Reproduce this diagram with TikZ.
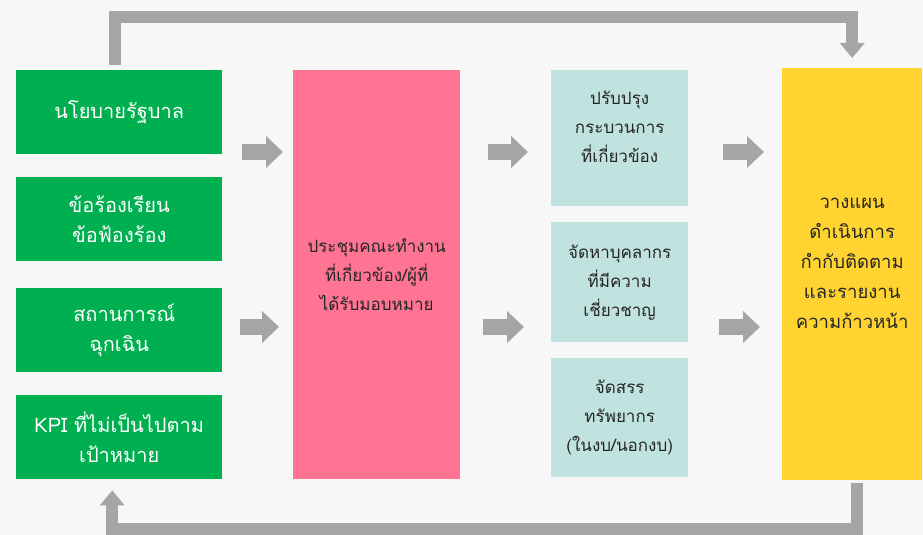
\documentclass[tikz,border=0pt]{standalone}
\usepackage{fontspec}
\newfontfamily\thaifont[Script=Thai]{Loma}
\usepackage{xcolor}
\definecolor{bggray}{HTML}{F7F7F7}
\definecolor{mygreen}{HTML}{00B050}
\definecolor{mypink}{HTML}{FF7393}
\definecolor{myteal}{HTML}{C0E3DF}
\definecolor{myyellow}{HTML}{FFD431}
\definecolor{arrowgray}{HTML}{A5A5A5}
\usetikzlibrary{arrows.meta}
\newcommand{\widthcause}{206pt}
\newcommand{\widthaction}{137pt}
\newcommand{\heightcause}{84pt}
\tikzset{
    common/.style={anchor=north west, rectangle, align=center, inner sep=0pt, text=black!85,
        font=\thaifont\fontsize{17}{29}\selectfont},
    cause/.style={common, fill=mygreen, text=white, minimum width=\widthcause, minimum height=\heightcause,
        font=\thaifont\fontsize{20}{30}\selectfont},
    meeting/.style={common, fill=mypink, minimum width=167pt, minimum height=409pt},
    action/.style={common, fill=myteal, minimum width=\widthaction},
    plan/.style={common, fill=myyellow, minimum width=140pt, minimum height=412pt,
        font=\thaifont\fontsize{18.5}{30}\selectfont},
    flow/.style={arrowgray, line width=16pt, -{Triangle[width=31pt, length=17pt]}},
    back/.style={arrowgray, line width=12pt, -{Triangle[width=24pt, length=15pt]}}
}

\begin{document}
\begin{tikzpicture}[x=1pt, y=-1pt]
    \fill[bggray] (0,0) rectangle (923,535);
    \useasboundingbox (0,0) rectangle (923,535);

    \node[cause] (policy) at (16,70) {นโยบายรัฐบาล};
    \node[cause] (complaint) at (16,177) {ข้อร้องเรียน\\ข้อฟ้องร้อง};
    \node[cause] (emergency) at (16,288) {\hspace{10pt}สถานการณ์\\ฉุกเฉิน};
    \node[cause] (kpi) at (16,395) {KPI ที่ไม่เป็นไปตาม\\เป้าหมาย};
    \node[meeting] (meeting) at (293,70) {ประชุมคณะทำงาน\\ที่เกี่ยวข้อง/ผู้ที่\\ได้รับมอบหมาย};
    \node[action, minimum height=136pt] (improve) at (551,70) {ปรับปรุง\\กระบวนการ\\ที่เกี่ยวข้อง\\[-6pt]};
    \node[action, minimum height=120pt] (staff) at (551,222) {จัดหาบุคลากร\\ที่มีความ\\เชี่ยวชาญ};
    \node[action, minimum height=119pt] (budget) at (551,358) {จัดสรร\\ทรัพยากร\\(ในงบ/นอกงบ)};
    \node[plan] (plan) at (782,68) {วางแผน\\ดำเนินการ\\กำกับติดตาม\\และรายงาน\\ความก้าวหน้า\\[-8pt]};

    \coordinate (upper) at (0,152);
    \coordinate (lower) at (0,327);
    \coordinate (top) at (0,17);
    \coordinate (bottom) at (0,529);

    \draw[flow, shorten <=20pt, shorten >=10pt] (policy.east |- upper) -- (meeting.west |- upper);
    \draw[flow, shorten <=18pt, shorten >=14pt] (emergency.east |- lower) -- (meeting.west |- lower);
    \draw[flow, shorten <=28pt, shorten >=23pt] (meeting.east |- upper) -- (improve.west |- upper);
    \draw[flow, shorten <=23pt, shorten >=27pt] (meeting.east |- lower) -- (staff.west |- lower);
    \draw[flow, shorten <=35pt, shorten >=18pt] (improve.east |- upper) -- (plan.west |- upper);
    \draw[flow, shorten <=31pt, shorten >=22pt] (staff.east |- lower) -- (plan.west |- lower);

    \draw[back, shorten <=5pt, shorten >=10pt] ([xshift=-4pt]policy.north) -- ([xshift=-4pt]policy.north |- top) -| (plan.north);
    \draw[back, shorten <=3pt, shorten >=11pt] ([xshift=5pt]plan.south) -- ([xshift=5pt]plan.south |- bottom) -| ([xshift=-7pt]kpi.south);
\end{tikzpicture}
\end{document}
